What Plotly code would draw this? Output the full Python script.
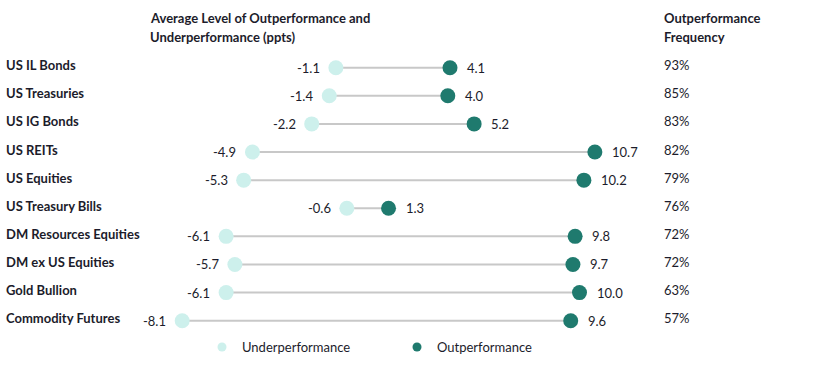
import plotly.graph_objects as go

categories = ["US IL Bonds", "US Treasuries", "US IG Bonds", "US REITs", "US Equities",
              "US Treasury Bills", "DM Resources Equities", "DM ex US Equities",
              "Gold Bullion", "Commodity Futures"]
underperformance = [-1.1, -1.4, -2.2, -4.9, -5.3, -0.6, -6.1, -5.7, -6.1, -8.1]
outperformance = [4.1, 4.0, 5.2, 10.7, 10.2, 1.3, 9.8, 9.7, 10.0, 9.6]
frequency = ["93%", "85%", "83%", "82%", "79%", "76%", "72%", "72%", "63%", "57%"]

W, H = 814, 372
LIGHT = "#cdf0ec"
DARK = "#1f7a6e"
GREY = "#c8c8c8"
TXT = "#1c1c2b"
FONT = "Lato"

px_per_unit = 21.95
zero_px = 360.0
x_range = [-zero_px / px_per_unit, (W - zero_px) / px_per_unit]
row0_px, row_step = 67.7, 28.11
y_range = [(H - row0_px) / row_step, -row0_px / row_step]

fig = go.Figure()

# connecting lines
lx, ly = [], []
for c, u, o in zip(categories, underperformance, outperformance):
    lx += [u, o, None]
    ly += [c, c, None]
fig.add_trace(go.Scatter(x=lx, y=ly, mode="lines", line=dict(color=GREY, width=2),
                         showlegend=False, hoverinfo="skip"))

fig.add_trace(go.Scatter(x=underperformance, y=categories, mode="markers",
                         marker=dict(color=LIGHT, size=15), showlegend=False,
                         name="Underperformance"))
fig.add_trace(go.Scatter(x=outperformance, y=categories, mode="markers",
                         marker=dict(color=DARK, size=15), showlegend=False,
                         name="Outperformance"))
# legend entries
fig.add_trace(go.Scatter(x=[None], y=[None], mode="markers", name="Underperformance",
                         marker=dict(color=LIGHT, size=9)))
fig.add_trace(go.Scatter(x=[None], y=[None], mode="markers", name="Outperformance",
                         marker=dict(color=DARK, size=9)))

ann = []
for c, u, o, f in zip(categories, underperformance, outperformance, frequency):
    ann.append(dict(x=u, y=c, xref="x", yref="y", text=f"{u:.1f}", showarrow=False,
                    xanchor="right", yanchor="middle", xshift=-14,
                    font=dict(size=13, color=TXT, family=FONT)))
    ann.append(dict(x=o, y=c, xref="x", yref="y", text=f"{o:.1f}", showarrow=False,
                    xanchor="left", yanchor="middle", xshift=15,
                    font=dict(size=13, color=TXT, family=FONT)))
    ann.append(dict(x=4 / W, y=c, xref="paper", yref="y", text=f"<b>{c}</b>", showarrow=False,
                    xanchor="left", yanchor="middle", yshift=2.5,
                    font=dict(size=13, color=TXT, family=FONT)))
    ann.append(dict(x=662 / W, y=c, xref="paper", yref="y", text=f, showarrow=False,
                    xanchor="left", yanchor="middle", yshift=2.5,
                    font=dict(size=13, color=TXT, family=FONT)))

for text, xp, yp in [("Average Level of Outperformance and", 148, 18),
                     ("Underperformance (ppts)", 148, 37),
                     ("Outperformance", 662, 18),
                     ("Frequency", 662, 37)]:
    ann.append(dict(x=xp / W, y=1 - yp / H, xref="paper", yref="paper", text=f"<b>{text}</b>",
                    showarrow=False, xanchor="left", yanchor="middle",
                    font=dict(size=13, color=TXT, family=FONT)))

fig.update_layout(
    width=W, height=H, margin=dict(l=0, r=0, t=0, b=0),
    paper_bgcolor="white", plot_bgcolor="white",
    font=dict(family=FONT, color=TXT, size=13),
    xaxis=dict(range=x_range, visible=False, fixedrange=True),
    yaxis=dict(range=y_range, type="category", categoryorder="array",
               categoryarray=categories, visible=False, fixedrange=True),
    annotations=ann,
    legend=dict(orientation="h", x=202 / W, xanchor="left", y=(H - 347) / H, yanchor="middle",
                entrywidth=150, entrywidthmode="pixels", itemwidth=30,
                font=dict(size=13, color=TXT, family=FONT), bgcolor="rgba(0,0,0,0)"),
    showlegend=True,
)

fig.write_html("out.html", config={"displayModeBar": False},
               post_script="document.body.style.margin='0';")
